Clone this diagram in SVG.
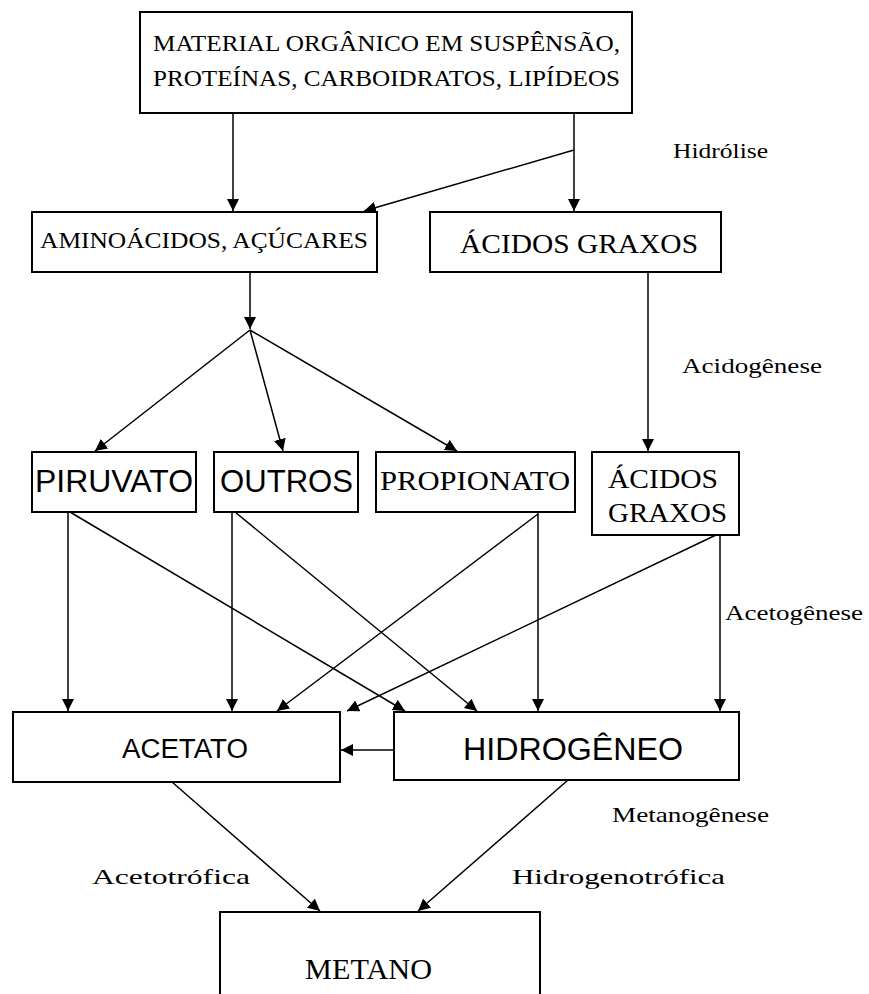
<svg xmlns="http://www.w3.org/2000/svg" width="869" height="994" viewBox="0 0 869 994">
<style>
.box{fill:#fff;stroke:#000;stroke-width:2}
.ser{font-family:"Liberation Serif","Times New Roman",serif;fill:#000}
.san{font-family:"Liberation Sans",Arial,sans-serif;fill:#000}
.ln{stroke:#000;stroke-width:1.5;fill:none;marker-end:url(#ah)}
</style>
<defs>
<marker id="ah" markerUnits="userSpaceOnUse" markerWidth="14" markerHeight="14" refX="12" refY="6" orient="auto">
<path d="M0,0 L12,6 L0,12 Z" fill="#000"/>
</marker>
</defs>
<rect width="869" height="994" fill="#fff"/>
<g id="connectors">
<line class="ln" x1="233" y1="113" x2="233" y2="211"/>
<line class="ln" x1="574" y1="113" x2="574" y2="211"/>
<line class="ln" x1="574" y1="150" x2="364" y2="211"/>
<line class="ln" x1="250" y1="272" x2="250" y2="329"/>
<line class="ln" x1="250" y1="330" x2="95" y2="451"/>
<line class="ln" x1="250" y1="330" x2="283" y2="451"/>
<line class="ln" x1="250" y1="330" x2="457" y2="451"/>
<line class="ln" x1="648" y1="272" x2="648" y2="451"/>
<line class="ln" x1="68" y1="512" x2="68" y2="711"/>
<line class="ln" x1="70" y1="512" x2="405" y2="711"/>
<line class="ln" x1="232" y1="512" x2="232" y2="711"/>
<line class="ln" x1="235" y1="512" x2="477" y2="711"/>
<line class="ln" x1="538" y1="512" x2="538" y2="711"/>
<line class="ln" x1="538" y1="514" x2="277" y2="711"/>
<line class="ln" x1="720" y1="535" x2="720" y2="711"/>
<line class="ln" x1="716" y1="535" x2="347" y2="711"/>
<line class="ln" x1="394" y1="750" x2="341" y2="750"/>
<line class="ln" x1="172" y1="782" x2="320" y2="911"/>
<line class="ln" x1="568" y1="780" x2="418" y2="911"/>
</g>
<g id="n-material">
<rect class="box" x="140" y="12" width="492" height="101"/>
<text class="ser" x="153" y="51" font-size="23" textLength="467" lengthAdjust="spacingAndGlyphs">MATERIAL ORGÂNICO EM SUSPÊNSÃO,</text>
<text class="ser" x="153" y="86" font-size="23" textLength="467" lengthAdjust="spacingAndGlyphs">PROTEÍNAS, CARBOIDRATOS, LIPÍDEOS</text>
</g>
<g id="n-aminoacidos">
<rect class="box" x="32" y="212" width="345" height="60"/>
<text class="ser" x="40" y="248" font-size="24" textLength="328" lengthAdjust="spacingAndGlyphs">AMINOÁCIDOS, AÇÚCARES</text>
</g>
<g id="n-acidos1">
<rect class="box" x="430" y="212" width="291" height="60"/>
<text class="ser" x="460" y="253" font-size="27" textLength="238" lengthAdjust="spacingAndGlyphs">ÁCIDOS GRAXOS</text>
</g>
<g id="n-piruvato">
<rect class="box" x="32" y="452" width="164" height="60"/>
<text class="san" x="35" y="492" font-size="32" textLength="158" lengthAdjust="spacingAndGlyphs">PIRUVATO</text>
</g>
<g id="n-outros">
<rect class="box" x="214" y="452" width="144" height="60"/>
<text class="san" x="220" y="492" font-size="32" textLength="133" lengthAdjust="spacingAndGlyphs">OUTROS</text>
</g>
<g id="n-propionato">
<rect class="box" x="376" y="452" width="199" height="60"/>
<text class="ser" x="380" y="490" font-size="27" textLength="190" lengthAdjust="spacingAndGlyphs">PROPIONATO</text>
</g>
<g id="n-acidos2">
<rect class="box" x="592" y="452" width="147" height="83"/>
<text class="ser" x="608" y="488" font-size="28" textLength="110" lengthAdjust="spacingAndGlyphs">ÁCIDOS</text>
<text class="ser" x="608" y="522" font-size="28" textLength="119" lengthAdjust="spacingAndGlyphs">GRAXOS</text>
</g>
<g id="n-acetato">
<rect class="box" x="13" y="712" width="327" height="70"/>
<text class="san" x="122" y="758" font-size="27" textLength="126" lengthAdjust="spacingAndGlyphs">ACETATO</text>
</g>
<g id="n-hidrogeneo">
<rect class="box" x="394" y="712" width="345" height="68"/>
<text class="san" x="463" y="760" font-size="32" textLength="220" lengthAdjust="spacingAndGlyphs">HIDROGÊNEO</text>
</g>
<g id="n-metano">
<path class="box" d="M220,996 L220,912 L540,912 L540,996"/>
<text class="ser" x="305" y="979" font-size="29" textLength="127" lengthAdjust="spacingAndGlyphs">METANO</text>
</g>
<g id="labels">
<text class="ser" x="673" y="158" font-size="21" textLength="95" lengthAdjust="spacingAndGlyphs">Hidrólise</text>
<text class="ser" x="682" y="373" font-size="21" textLength="140" lengthAdjust="spacingAndGlyphs">Acidogênese</text>
<text class="ser" x="725" y="620" font-size="21" textLength="138" lengthAdjust="spacingAndGlyphs">Acetogênese</text>
<text class="ser" x="612" y="822" font-size="21" textLength="157" lengthAdjust="spacingAndGlyphs">Metanogênese</text>
<text class="ser" x="92" y="884" font-size="21" textLength="158" lengthAdjust="spacingAndGlyphs">Acetotrófica</text>
<text class="ser" x="512" y="884" font-size="21" textLength="213" lengthAdjust="spacingAndGlyphs">Hidrogenotrófica</text>
</g>
</svg>
